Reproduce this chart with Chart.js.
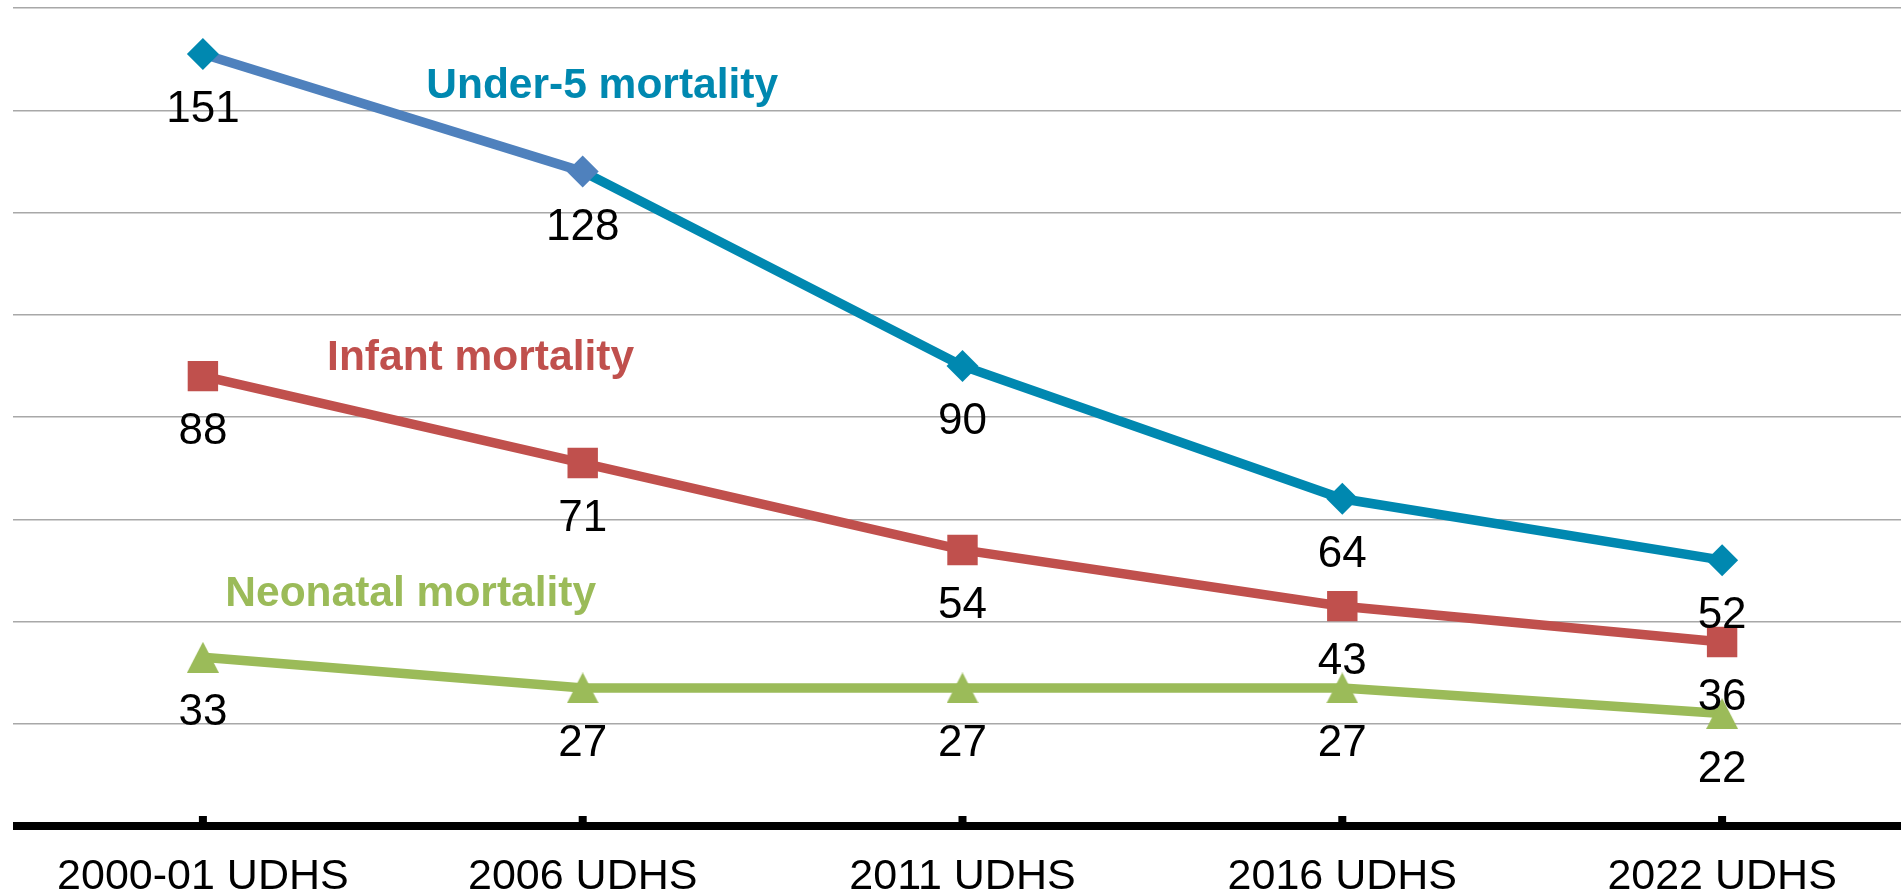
<!DOCTYPE html>
<html>
<head>
<meta charset="utf-8">
<script src="https://cdn.jsdelivr.net/npm/chart.js@4.4.1/dist/chart.umd.min.js"></script>
<style>
  html, body { margin: 0; padding: 0; background: #fff; overflow: hidden; }
  #wrap { width: 1912px; height: 896px; }
</style>
</head>
<body>
<div id="wrap"><canvas id="chart" width="1912" height="896"></canvas></div>
<script>
// data
const surveys = ["2000-01 UDHS", "2006 UDHS", "2011 UDHS", "2016 UDHS", "2022 UDHS"];
const under5 = [151, 128, 90, 64, 52];
const infant = [88, 71, 54, 43, 36];
const neonatal = [33, 27, 27, 27, 22];
const seriesNames = ["Under-5 mortality", "Infant mortality", "Neonatal mortality"];
const yTicks = [0, 20, 40, 60, 80, 100, 120, 140, 160];

const TEAL = "#0088B0";
const BLUE = "#4F81BD";
const RED = "#C0504D";
const GREEN = "#9BBB59";
const FONT = "'Liberation Sans', Arial, sans-serif";

// triangle marker with its box centred on the point, like the original
function triangleMarker(color) {
  const c = document.createElement("canvas");
  c.width = 32; c.height = 31;
  const g = c.getContext("2d");
  g.fillStyle = color;
  g.beginPath();
  g.moveTo(16, 0);
  g.lineTo(32, 31);
  g.lineTo(0, 31);
  g.closePath();
  g.fill();
  return c;
}

// where the series names sit, in (category index, value) units
const nameAnchors = [
  { x: 0.588, y: 142.4, color: TEAL },
  { x: 0.327, y: 89.1, color: RED },
  { x: 0.059, y: 42.95, color: GREEN }
];

const decorations = {
  id: "decorations",
  afterDatasetsDraw(chart) {
    const { ctx, chartArea, scales: { x, y } } = chart;
    ctx.save();

    // value labels under each point
    ctx.fillStyle = "#000";
    ctx.font = "44px " + FONT;
    ctx.textAlign = "center";
    ctx.textBaseline = "alphabetic";
    chart.data.datasets.forEach((ds, i) => {
      chart.getDatasetMeta(i).data.forEach((pt, j) => {
        ctx.fillText(String(ds.data[j]), pt.x, pt.y + 68);
      });
    });

    // series names
    ctx.font = "bold 42.5px " + FONT;
    ctx.textAlign = "left";
    nameAnchors.forEach((a, i) => {
      ctx.fillStyle = a.color;
      ctx.fillText(seriesNames[i], x.getPixelForValue(a.x), y.getPixelForValue(a.y));
    });

    // heavy category axis with small inner tick marks
    const y0 = y.getPixelForValue(0);
    ctx.fillStyle = "#000";
    ctx.fillRect(chartArea.left, y0 - 4, chart.width - chartArea.left, 8);
    x.ticks.forEach((t, i) => {
      const px = x.getPixelForTick(i);
      ctx.fillRect(px - 4, y0 - 10, 8, 10);
    });
    ctx.restore();
  }
};

new Chart(document.getElementById("chart"), {
  type: "line",
  data: {
    labels: surveys,
    datasets: [
      {
        label: seriesNames[0],
        data: under5,
        borderColor: TEAL,
        borderWidth: 9.5,
        segment: { borderColor: c => (c.p0DataIndex === 0 ? BLUE : TEAL) },
        pointStyle: "rectRot",
        pointRadius: 16,
        pointBorderWidth: 0,
        pointBackgroundColor: [TEAL, BLUE, TEAL, TEAL, TEAL],
        tension: 0
      },
      {
        label: seriesNames[1],
        data: infant,
        borderColor: RED,
        borderWidth: 9.5,
        pointStyle: "rect",
        pointRadius: 21.5,
        pointBorderWidth: 0,
        pointBackgroundColor: RED,
        tension: 0
      },
      {
        label: seriesNames[2],
        data: neonatal,
        borderColor: GREEN,
        borderWidth: 9.5,
        pointStyle: triangleMarker(GREEN),
        pointRadius: 16,
        pointBorderWidth: 0,
        pointBackgroundColor: GREEN,
        tension: 0
      }
    ]
  },
  options: {
    responsive: false,
    animation: false,
    events: [],
    layout: { autoPadding: false, padding: { left: 13, right: 0, top: 8, bottom: 0 } },
    plugins: { legend: { display: false }, tooltip: { enabled: false } },
    scales: {
      x: {
        offset: true,
        grid: { display: false },
        border: { display: false },
        ticks: {
          color: "#000",
          font: { family: FONT, size: 43 },
          padding: 17,
          maxRotation: 0,
          autoSkip: false
        },
        afterFit: s => { s.height = 70; }
      },
      y: {
        min: yTicks[0],
        max: yTicks[yTicks.length - 1],
        afterBuildTicks: s => { s.ticks = yTicks.map(v => ({ value: v })); },
        grid: { color: "#a8a8a8", lineWidth: 1.5, drawTicks: false },
        border: { display: false },
        ticks: { display: false }
      }
    }
  },
  plugins: [decorations]
});
</script>
</body>
</html>
